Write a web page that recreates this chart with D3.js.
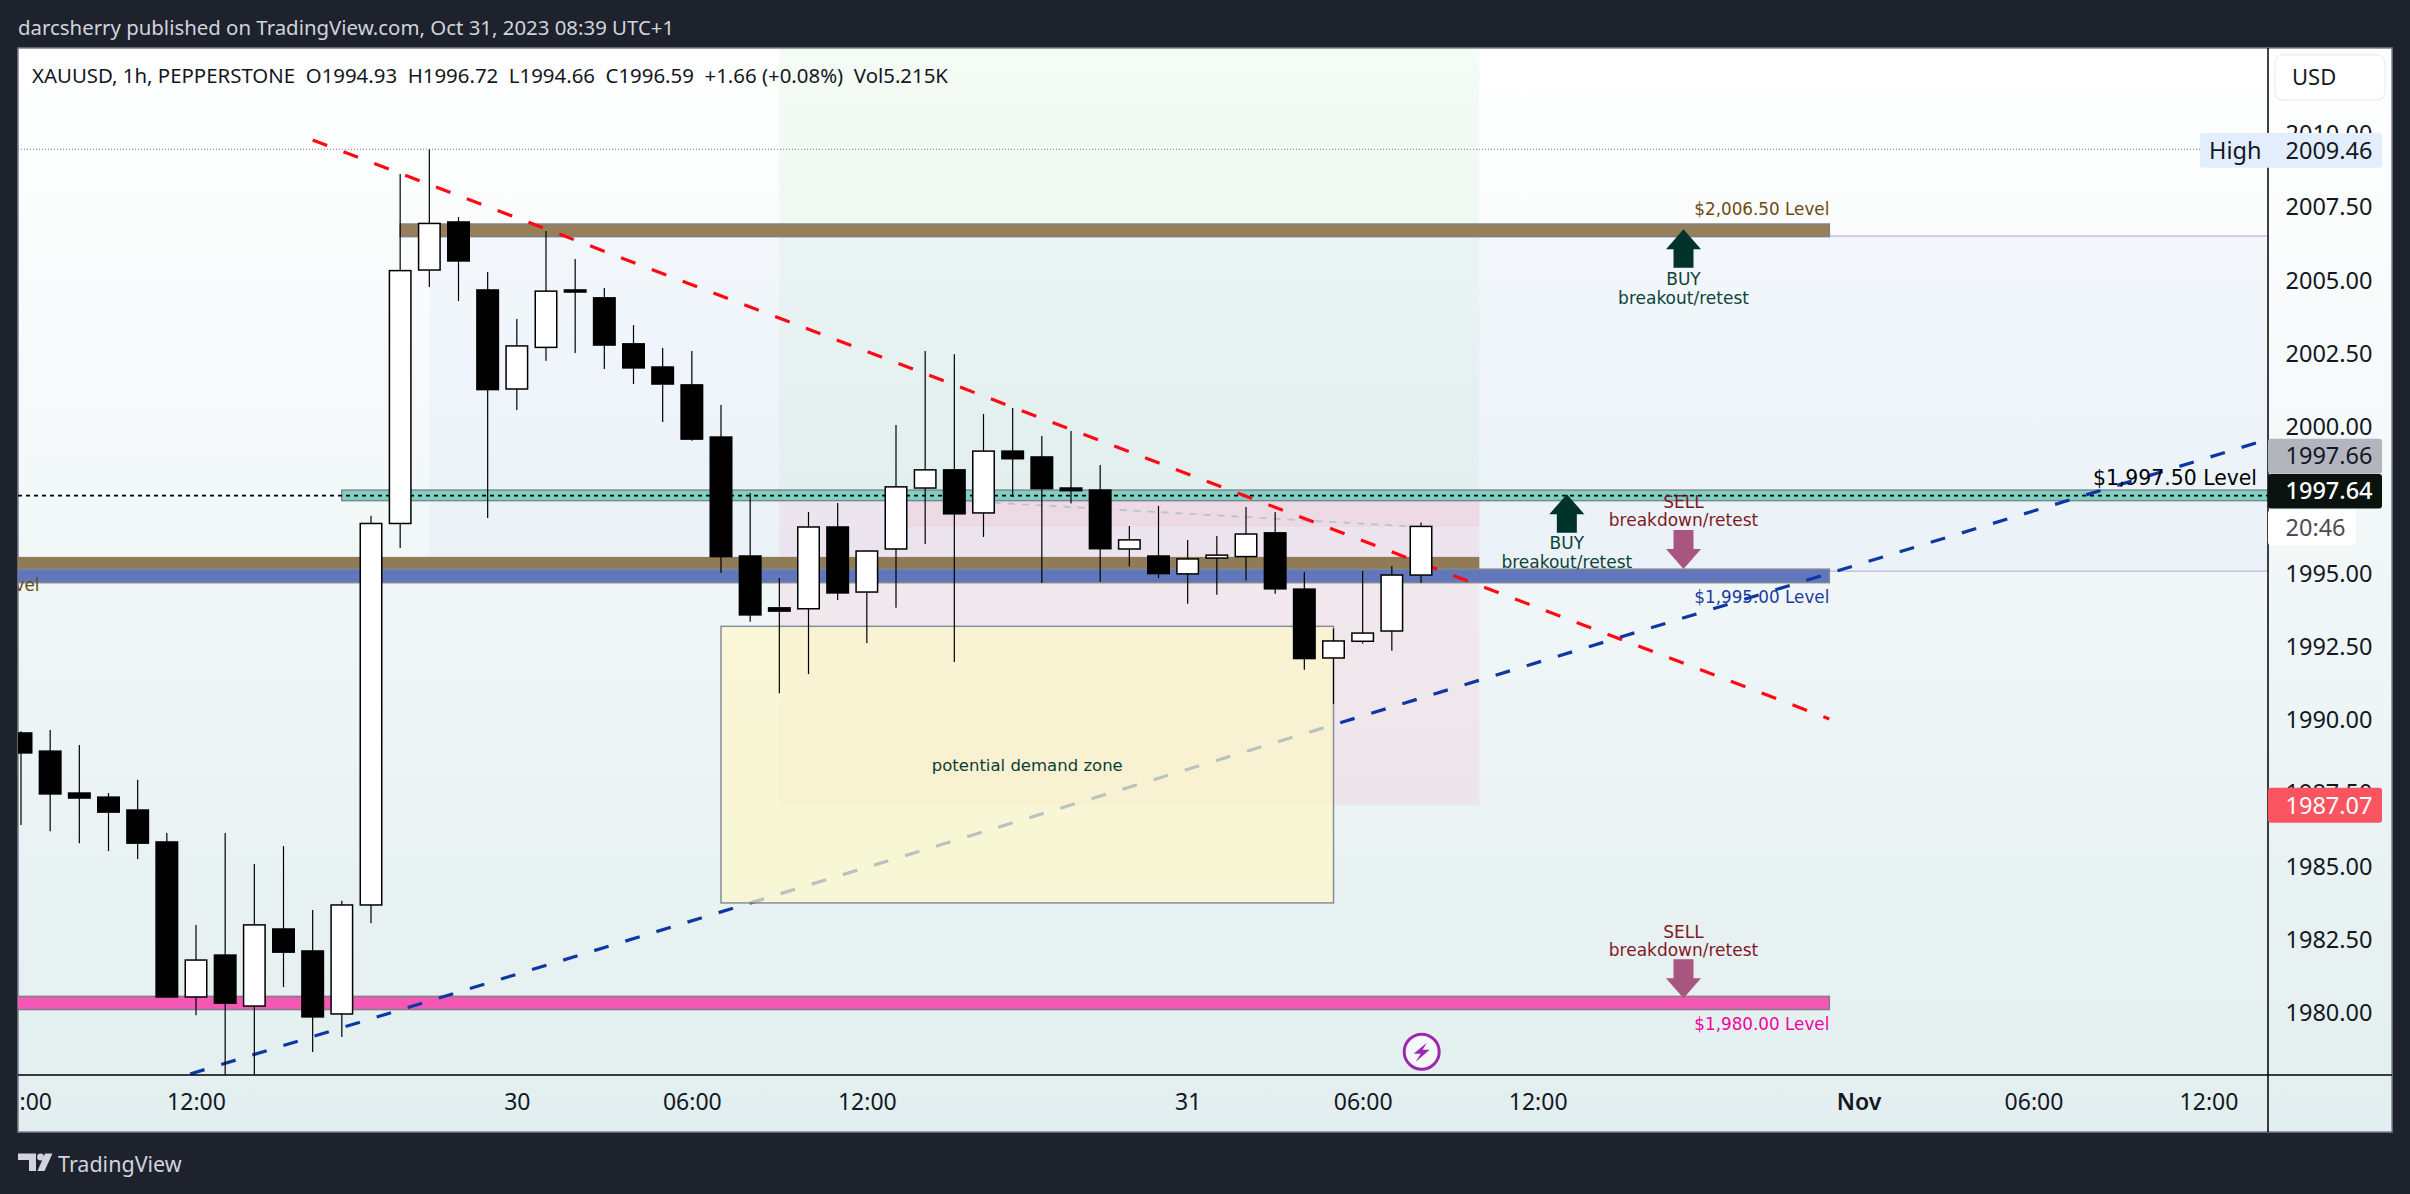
<!DOCTYPE html>
<html>
<head>
<meta charset="utf-8">
<title>XAUUSD 1h</title>
<script src="https://cdn.jsdelivr.net/npm/d3@7"></script>
<style>
  html, body { margin: 0; padding: 0; background: #1e222d; }
  svg { display: block; }
  text { font-family: "Noto Sans", sans-serif; }
  .note { font-family: "DejaVu Sans", sans-serif; }
</style>
</head>
<body>
<svg id="chart" width="2410" height="1194"></svg>
<script>
// ----- values -----
const opens = [1989.54,1988.92,1987.49,1987.35,1986.91,1985.82,1980.53,1981.96,1980.22,1982.85,1982.10,1979.95,1983.67,1996.69,2005.34,2006.98,2004.66,2001.28,2002.70,2004.66,2004.39,2002.82,2002.03,2001.42,1999.64,1995.58,1993.81,1993.78,1996.57,1994.35,1995.82,1997.90,1998.52,1997.05,1999.16,1998.96,1997.90,1997.83,1995.82,1995.58,1994.97,1995.51,1995.56,1996.37,1994.45,1992.10,1992.67,1993.02,1994.93];
const highs = [1989.60,1989.64,1989.13,1987.49,1987.94,1986.13,1982.99,1986.13,1985.07,1985.68,1983.50,1983.81,1996.95,2008.62,2009.46,2007.15,2005.27,2003.67,2006.67,2005.72,2004.73,2003.46,2002.68,2002.58,2000.73,1997.73,1994.83,1997.08,1997.39,1995.75,2000.05,2002.58,2002.47,2000.43,2000.63,1999.68,1999.85,1998.69,1996.60,1997.29,1996.13,1996.26,1997.25,1997.08,1995.03,1993.10,1995.07,1995.24,1996.72];
const lows = [1986.40,1986.19,1985.78,1985.51,1985.24,1980.50,1979.91,1977.70,1977.70,1980.87,1978.65,1979.16,1983.05,1995.85,2004.76,2004.28,1996.88,2000.56,2002.24,2002.51,2001.96,2001.45,2000.15,1999.51,1995.00,1993.34,1990.90,1991.55,1994.08,1992.61,1993.81,1995.99,1991.96,1996.23,1997.59,1994.66,1997.37,1994.70,1995.22,1994.83,1993.95,1994.26,1994.74,1994.29,1991.70,1990.53,1992.59,1992.35,1994.66];
const closes = [1988.86,1987.46,1987.32,1986.84,1985.78,1980.53,1981.79,1980.32,1982.99,1982.06,1979.85,1983.67,1996.69,2005.32,2006.93,2005.65,2001.26,2002.75,2004.62,2004.59,2002.78,2002.00,2001.45,1999.57,1995.56,1993.57,1993.70,1996.57,1994.32,1995.75,1997.94,1998.52,1997.02,1999.16,1998.90,1997.88,1997.81,1995.83,1996.13,1994.98,1995.48,1995.61,1996.33,1994.46,1992.08,1992.68,1992.95,1994.93,1996.59];

const priceTicks = [2010,2007.5,2005,2002.5,2000,1995,1992.5,1990,1987.5,1985,1982.5,1980];
const timeBars = [0,6,17,23,29,40,46,52,63,69,75];
const timeLabels = [":00","12:00","30","06:00","12:00","31","06:00","12:00","Nov","06:00","12:00"];

// horizontal zones: [top price, bottom price, first bar, last bar]
const brownHigh = [2006.91,2006.48,13,62];
const brownLow = [1995.55,1995.13,-5,50];
const tealZone = [1997.83,1997.47,11,90];
const blueZone = [1995.13,1994.67,-5,62];
const pinkZone = [1980.55,1980.10,-5,62];
const demandZone = [1993.18,1983.74,24,45];
const rangeBox = [2006.50,1995.06,14,90];
const profitBox = [2016,1997.59,26,50];
const lossBox = [1997.59,1987.08,26,50];
const openLossBox = [1997.59,1996.57,30,50];

// trend lines: [bar, price, bar, price]
const redTrend = [10,2009.78,62,1990.02];
const blueTrend = [5.8,1977.90,77,1999.55];
const positionLink = [30,1997.59,48,1996.57];

const lastPrice = 1997.64;
const lastBidPrice = 1997.66;
const lowLabelPrice = 1987.07;
const highPrice = 2009.46;

const arrowBars = [57,53,57,57];
const arrowPrices = [2006.73,1997.69,1995.14,1980.49];
const arrowDirs = ["up","up","down","down"];

// ----- layout -----
const svg = d3.select("#chart");
const left = 18, top_ = 48, plotRight = 2268, plotBottom = 1075, right = 2392, bottom = 1132;

const x = d3.scaleLinear().domain([0, 48]).range([21, 1421]);
const y = d3.scaleLinear().domain([1980, 2007.5]).range([1012.5, 206.75]);

const defs = svg.append("defs");
const grad = defs.append("linearGradient").attr("id", "bg").attr("x1", 0).attr("y1", 0).attr("x2", 0).attr("y2", 1);
grad.append("stop").attr("offset", "0%").attr("stop-color", "#ffffff");
grad.append("stop").attr("offset", "100%").attr("stop-color", "#e2eeef");
defs.append("clipPath").attr("id", "plot").append("rect")
  .attr("x", left).attr("y", top_).attr("width", plotRight - left).attr("height", plotBottom - top_);

svg.append("text").attr("x", 18).attr("y", 27.5).attr("dy", "0.35em")
  .attr("fill", "#d1d4dc").attr("font-size", 20.4)
  .text("darcsherry published on TradingView.com, Oct 31, 2023 08:39 UTC+1");

svg.append("rect").attr("x", left).attr("y", top_).attr("width", right - left).attr("height", bottom - top_)
  .attr("fill", "url(#bg)").attr("stroke", "#7d808c").attr("stroke-width", 1.5);

const plot = svg.append("g").attr("clip-path", "url(#plot)");

function zone(g, z, fill, stroke) {
  const r = g.append("rect")
    .attr("x", x(z[2])).attr("width", x(z[3]) - x(z[2]))
    .attr("y", y(z[0])).attr("height", y(z[1]) - y(z[0]))
    .attr("fill", fill);
  if (stroke) r.attr("stroke", stroke).attr("stroke-width", 1.5);
  return r;
}
function trend(g, t, color, width, dash) {
  return g.append("line")
    .attr("x1", x(t[0])).attr("y1", y(t[1])).attr("x2", x(t[2])).attr("y2", y(t[3]))
    .attr("stroke", color).attr("stroke-width", width).attr("stroke-dasharray", dash);
}

zone(plot, rangeBox, "rgba(41,98,255,0.03)");
plot.append("line").attr("x1", x(14)).attr("x2", plotRight).attr("y1", y(2006.5)).attr("y2", y(2006.5)).attr("stroke", "#c9c0e0").attr("stroke-width", 1.5);
plot.append("line").attr("x1", x(14)).attr("x2", plotRight).attr("y1", y(1995.06)).attr("y2", y(1995.06)).attr("stroke", "#c9c0e0").attr("stroke-width", 1.5);

zone(plot, profitBox, "rgba(76,175,80,0.055)");
zone(plot, lossBox, "rgba(255,60,110,0.07)");
zone(plot, openLossBox, "rgba(242,54,69,0.06)");
trend(plot, positionLink, "#b7c4cf", 1.8, "7,7");

// high marker
plot.append("line").attr("x1", left).attr("x2", 2200).attr("y1", y(highPrice)).attr("y2", y(highPrice))
  .attr("stroke", "#7a7d88").attr("stroke-width", 1).attr("stroke-dasharray", "1,2");

zone(plot, brownHigh, "#967f59", "#7e7f86");
zone(plot, brownLow, "#907b56", null);
zone(plot, tealZone, "#80cfc3", "#7c8a90");
zone(plot, blueZone, "#6177ba", "#7e8794");
zone(plot, pinkZone, "#f558b4", "#80808a");

// last price line
plot.append("line").attr("x1", left).attr("x2", plotRight).attr("y1", y(lastPrice)).attr("y2", y(lastPrice))
  .attr("stroke", "#000").attr("stroke-width", 1.6).attr("stroke-dasharray", "4,4");

trend(plot, blueTrend, "#0f37a3", 3.2, "15,17.5");
trend(plot, redTrend, "#ff0a12", 3.2, "15.5,17.5");

zone(plot, demandZone, "rgba(252,246,201,0.72)", "#878d99");

// candles
const bars = d3.range(opens.length);
const bodyW = 21.5;
const candles = plot.append("g").selectAll("g").data(bars).join("g");
candles.append("line")
  .attr("x1", d => x(d)).attr("x2", d => x(d))
  .attr("y1", d => y(highs[d])).attr("y2", d => y(lows[d]))
  .attr("stroke", "#000").attr("stroke-width", 1.2);
candles.append("rect")
  .attr("x", d => x(d) - bodyW / 2).attr("width", bodyW)
  .attr("y", d => y(Math.max(opens[d], closes[d])))
  .attr("height", d => Math.max(0.5, Math.abs(y(opens[d]) - y(closes[d]))))
  .attr("fill", d => closes[d] >= opens[d] ? "#fff" : "#000")
  .attr("stroke", "#000").attr("stroke-width", 1.5);

// arrows
function arrowPath(dir) {
  const s = dir === "up" ? 1 : -1;
  const headH = 20, shaftH = dir === "up" ? 38.5 : 39;
  return `M0,0L${-17.5},${s * headH}L${-10},${s * headH}L${-10},${s * shaftH}L${10},${s * shaftH}L${10},${s * headH}L${17.5},${s * headH}Z`;
}
svg.append("g").selectAll("path").data(arrowBars).join("path")
  .attr("transform", (d, k) => `translate(${x(d)},${y(arrowPrices[k])})`)
  .attr("d", (d, k) => arrowPath(arrowDirs[k]))
  .attr("fill", (d, k) => arrowDirs[k] === "up" ? "#00332b" : "#a8567f");

// annotation text
function note(txt, px, py, size, color, anchor) {
  plot.append("text").attr("class", "note").attr("x", px).attr("y", py).attr("dy", "0.35em")
    .attr("font-size", size).attr("fill", color).attr("text-anchor", anchor || "middle").text(txt);
}
const buyCol = "#0b4439", sellCol = "#7f1a25";
note("BUY", x(57), 279, 17, buyCol);
note("breakout/retest", x(57), 298, 17, buyCol);
note("BUY", x(53), 543, 17, buyCol);
note("breakout/retest", x(53), 562, 17, buyCol);
note("SELL", x(57), 502, 17, sellCol);
note("breakdown/retest", x(57), 520, 17, sellCol);
note("SELL", x(57), 932, 17, sellCol);
note("breakdown/retest", x(57), 950, 17, sellCol);
note("$2,006.50 Level", x(62), 209, 16.8, "#6b4a10", "end");
note("$1,995.00 Level", x(62), 597, 16.8, "#1a3c9e", "end");
note("$1,980.00 Level", x(62), 1024, 16.8, "#f5009f", "end");
note("$1,997.50 Level", 2257, 478, 20.4, "#000", "end");
note("vel", 39.5, 585, 16.8, "#6b4a10", "end");
note("potential demand zone", x(34.5), 765, 16.5, "#0b3d33");

svg.append("text").attr("x", 32).attr("y", 76).attr("dy", "0.35em").attr("font-size", 20.4).attr("fill", "#131722")
  .attr("xml:space", "preserve")
  .text("XAUUSD, 1h, PEPPERSTONE  O1994.93  H1996.72  L1994.66  C1996.59  +1.66 (+0.08%)  Vol5.215K");

// axes
const timeAxis = d3.axisBottom(x).tickValues(timeBars).tickFormat((d, k) => timeLabels[k]).tickSize(0);
const tg = svg.append("g").attr("transform", `translate(0,${plotBottom})`).call(timeAxis);
tg.select(".domain").remove();
tg.selectAll("text").attr("y", 27).attr("dy", "0.35em")
  .attr("font-family", "Noto Sans").attr("font-size", 23).attr("fill", "#131722")
  .attr("font-weight", (d, k) => timeLabels[k] === "Nov" ? 600 : 400)
  // first label is cut by the chart edge in the picture, so it starts at the edge
  .attr("text-anchor", (d, k) => k === 0 ? "start" : "middle")
  .attr("x", (d, k) => k === 0 ? left + 1 - x(d) : 0);

const priceAxis = d3.axisRight(y).tickValues(priceTicks).tickFormat(d3.format(".2f")).tickSize(0);
const pg = svg.append("g").attr("transform", `translate(${plotRight},0)`).call(priceAxis);
pg.select(".domain").remove();
pg.selectAll("text").attr("x", 17.5).attr("dy", "0.35em")
  .attr("font-family", "Noto Sans").attr("font-size", 23.5).attr("fill", "#131722");

svg.append("line").attr("x1", plotRight).attr("x2", plotRight).attr("y1", top_).attr("y2", bottom).attr("stroke", "#000").attr("stroke-width", 1.5);
svg.append("line").attr("x1", left).attr("x2", right).attr("y1", plotBottom).attr("y2", plotBottom).attr("stroke", "#000").attr("stroke-width", 1.5);

// price labels
function priceTag(px, w, cy, h, fill, label, color, weight) {
  svg.append("rect").attr("x", px).attr("y", cy - h / 2).attr("width", w).attr("height", h).attr("rx", 3).attr("fill", fill);
  svg.append("text").attr("x", 2285.5).attr("y", cy).attr("dy", "0.35em")
    .attr("font-size", 23.5).attr("fill", color).attr("font-weight", weight || 400).text(label);
}
priceTag(plotRight, 114, y(lastPrice) - 39.5, 35, "#b2b5be", d3.format(".2f")(lastBidPrice), "#131722");
priceTag(plotRight, 114, y(lastPrice) - 4.5, 34.5, "#0b130f", d3.format(".2f")(lastPrice), "#ffffff", 500);
priceTag(plotRight, 88, y(lastPrice) + 32, 35, "#ffffff", "20:46", "#4a4d55");
priceTag(plotRight, 114, y(lowLabelPrice), 35, "#f9545f", d3.format(".2f")(lowLabelPrice), "#ffffff");

// high tag
svg.append("rect").attr("x", 2200).attr("y", 133).attr("width", 182).attr("height", 34.7).attr("rx", 3).attr("fill", "#e3eefd");
svg.append("text").attr("x", 2209).attr("y", y(highPrice) + 1).attr("dy", "0.35em").attr("font-size", 23.5).attr("fill", "#131722").text("High");
svg.append("text").attr("x", 2285.5).attr("y", y(highPrice) + 1).attr("dy", "0.35em").attr("font-size", 23.5).attr("fill", "#131722").text(d3.format(".2f")(highPrice));

// USD button
svg.append("rect").attr("x", 2275).attr("y", 54.7).attr("width", 110).attr("height", 45.5).attr("rx", 8)
  .attr("fill", "#fff").attr("stroke", "#eeeef6").attr("stroke-width", 1.5);
svg.append("text").attr("x", 2292).attr("y", 77).attr("dy", "0.35em").attr("font-size", 22).attr("fill", "#131722").text("USD");

// lightning badge
const badge = svg.append("g").attr("transform", "translate(1421.7,1051.7)");
badge.append("circle").attr("r", 19.5).attr("fill", "#f4f8f9");
badge.append("circle").attr("r", 17.5).attr("fill", "none").attr("stroke", "#9c27b0").attr("stroke-width", 3);
badge.append("path").attr("d", "M5,-9L-8,2L-1,2L-6,10L8,-2L1,-2Z").attr("fill", "#9c27b0");

// footer logo
const logo = svg.append("g").attr("fill", "#d1d4dc");
logo.append("path").attr("d", "M18,1153.5H36V1171H29V1160H18Z");
logo.append("circle").attr("cx", 40.5).attr("cy", 1157).attr("r", 3.4);
logo.append("path").attr("d", "M45,1153.5H52.5L44.5,1171H37.5Z");
svg.append("text").attr("x", 58).attr("y", 1164).attr("dy", "0.35em").attr("font-size", 21.5).attr("fill", "#d1d4dc").text("TradingView");
</script>
</body>
</html>
